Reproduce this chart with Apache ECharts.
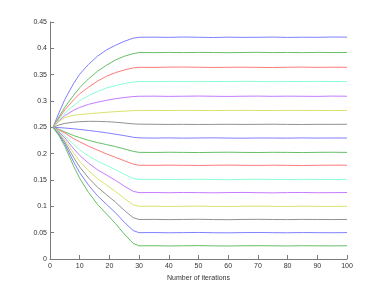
<!DOCTYPE html>
<html>
<head>
<meta charset="utf-8">
<script src="https://cdn.jsdelivr.net/npm/echarts@6/dist/echarts.min.js"></script>
<style>html,body{margin:0;padding:0;background:#fff;}#c{width:383px;height:292px;}</style>
</head>
<body>
<div id="c"></div>
<script>
var iterations = [1,3,5,8,10,13,16,19,22,25,28,30,35,40,45,50,55,60,65,70,75,80,85,90,95,100];
var xTicks = [0,10,20,30,40,50,60,70,80,90,100];
var yTicks = [0,0.05,0.1,0.15,0.2,0.25,0.3,0.35,0.4,0.45];
var xLabel = "Number of iterations";

var s1  = [0.25,0.2774,0.303,0.3338,0.3509,0.3697,0.3851,0.397,0.4056,0.4133,0.4193,0.421, 0.4212,0.4208,0.4215,0.4210,0.4205,0.4212,0.4208,0.4210,0.4214,0.4207,0.4211,0.4209,0.4215,0.4212];
var s2  = [0.25,0.2699,0.2883,0.3111,0.3253,0.3423,0.3565,0.3679,0.3778,0.3849,0.3899,0.392, 0.3918,0.3922,0.3919,0.3923,0.3920,0.3917,0.3921,0.3924,0.3919,0.3922,0.3918,0.3923,0.3920,0.3921];
var s3  = [0.25,0.2671,0.2831,0.3024,0.3138,0.3264,0.3378,0.3469,0.3537,0.3589,0.3629,0.364, 0.3638,0.3643,0.3645,0.3641,0.3637,0.3640,0.3642,0.3639,0.3636,0.3641,0.3644,0.3639,0.3642,0.3640];
var s4  = [0.25,0.2639,0.277,0.2918,0.3005,0.310,0.3179,0.3248,0.3292,0.3331,0.3361,0.337, 0.3368,0.3372,0.3370,0.3367,0.3371,0.3369,0.3373,0.3370,0.3366,0.3371,0.3369,0.3372,0.3370,0.3368];
var s5  = [0.25,0.2618,0.2724,0.2825,0.2878,0.2937,0.2978,0.3013,0.3043,0.3066,0.3084,0.309, 0.3092,0.3088,0.3091,0.3094,0.3090,0.3087,0.3091,0.3093,0.3089,0.3092,0.3090,0.3088,0.3093,0.3091];
var s6  = [0.25,0.2612,0.2686,0.273,0.2743,0.2759,0.2772,0.2785,0.2798,0.2807,0.2817,0.282, 0.2821,0.2819,0.2822,0.2820,0.2818,0.2821,0.2823,0.2820,0.2819,0.2822,0.2820,0.2821,0.2819,0.2820];
var s7  = [0.25,0.2545,0.2575,0.2598,0.2607,0.2614,0.2613,0.2608,0.2597,0.2582,0.2566,0.256, 0.2558,0.2555,0.2557,0.2554,0.2556,0.2558,0.2555,0.2557,0.2559,0.2556,0.2554,0.2557,0.2556,0.2558];
var s8  = [0.25,0.2495,0.2487,0.2472,0.246,0.244,0.242,0.2396,0.237,0.2343,0.2312,0.230, 0.2296,0.2299,0.2295,0.2298,0.2300,0.2296,0.2294,0.2298,0.2297,0.2295,0.2299,0.2296,0.2298,0.2297];
var s9  = [0.25,0.2462,0.2414,0.2343,0.2305,0.2253,0.221,0.2172,0.2134,0.2091,0.2044,0.2025, 0.2023,0.2027,0.2024,0.2021,0.2025,0.2028,0.2024,0.2022,0.2026,0.2024,0.2021,0.2025,0.2027,0.2024];
var s10 = [0.25,0.245,0.2392,0.2284,0.2226,0.214,0.2068,0.1996,0.1931,0.1866,0.1802,0.178, 0.1778,0.1782,0.1779,0.1776,0.1780,0.1783,0.1779,0.1777,0.1781,0.1778,0.1775,0.1779,0.1782,0.1780];
var s11 = [0.25,0.2431,0.2342,0.2173,0.2074,0.1955,0.1856,0.1777,0.1698,0.1609,0.153,0.151, 0.1512,0.1508,0.1511,0.1514,0.1509,0.1507,0.1511,0.1513,0.1510,0.1508,0.1512,0.1510,0.1509,0.1511];
var s12 = [0.25,0.2413,0.2302,0.2091,0.1967,0.1818,0.1694,0.1595,0.1496,0.1384,0.1285,0.126, 0.1262,0.1258,0.1263,0.1260,0.1257,0.1261,0.1264,0.1259,0.1256,0.1261,0.1263,0.1258,0.1260,0.1262];
var s13 = [0.25,0.2395,0.226,0.2005,0.1855,0.1675,0.1525,0.1405,0.1285,0.115,0.103,0.100, 0.1002,0.0998,0.1001,0.1004,0.0999,0.0997,0.1001,0.1003,0.1000,0.0998,0.1002,0.1000,0.0999,0.1001];
var s14 = [0.25,0.2377,0.222,0.1922,0.1747,0.1537,0.1362,0.1222,0.1082,0.0925,0.0785,0.075, 0.0752,0.0748,0.0751,0.0754,0.0749,0.0747,0.0751,0.0753,0.0750,0.0748,0.0752,0.0750,0.0749,0.0751];
var s15 = [0.25,0.236,0.218,0.184,0.164,0.14,0.12,0.104,0.088,0.07,0.054,0.050, 0.0502,0.0498,0.0501,0.0504,0.0499,0.0497,0.0501,0.0503,0.0500,0.0498,0.0502,0.0500,0.0499,0.0501];
var s16 = [0.25,0.2342,0.214,0.1757,0.1532,0.1262,0.1037,0.0857,0.0677,0.0475,0.0295,0.025, 0.0252,0.0248,0.0251,0.0254,0.0249,0.0247,0.0251,0.0253,0.0250,0.0248,0.0252,0.0250,0.0249,0.0251];

var allSeries = [s1,s2,s3,s4,s5,s6,s7,s8,s9,s10,s11,s12,s13,s14,s15,s16];
var palette = ['#7f7fff','#66bf66','#ff7a7a','#8cffd2','#c57aff','#d9e36a','#929292'];

var series = allSeries.map(function(vals, i){
  return {
    type: 'line',
    data: vals.map(function(v, j){ return [iterations[j], v]; }),
    showSymbol: false,
    symbol: 'none',
    smooth: false,
    lineStyle: { width: 1, color: palette[i % palette.length] },
    silent: true
  };
});

var chart = echarts.init(document.getElementById('c'), null, {renderer: 'canvas'});
var axisCol = '#7a7a7a';
var labelCol = '#333333';
chart.setOption({
  animation: false,
  backgroundColor: '#ffffff',
  grid: { left: 50, right: 36, top: 22, bottom: 33, containLabel: false },
  xAxis: {
    type: 'value', min: xTicks[0], max: xTicks[xTicks.length-1], interval: 10,
    name: xLabel, nameLocation: 'middle', nameGap: 9,
    nameTextStyle: { fontFamily: 'Liberation Sans', fontSize: 7, color: labelCol },
    axisLine: { show: true, lineStyle: { color: axisCol, width: 1 } },
    axisTick: { show: true, inside: true, length: 4, lineStyle: { color: axisCol } },
    axisLabel: { fontFamily: 'Liberation Sans', fontSize: 7, color: labelCol, margin: 4 },
    splitLine: { show: false }
  },
  yAxis: {
    type: 'value', min: yTicks[0], max: yTicks[yTicks.length-1], interval: 0.05,
    axisLine: { show: true, lineStyle: { color: axisCol, width: 1 } },
    axisTick: { show: true, inside: true, length: 4, lineStyle: { color: axisCol } },
    axisLabel: { fontFamily: 'Liberation Sans', fontSize: 7, color: labelCol, margin: 3,
      formatter: function(v){ return String(Math.round(v*100)/100); } },
    splitLine: { show: false }
  },
  series: series
});
</script>
</body>
</html>
